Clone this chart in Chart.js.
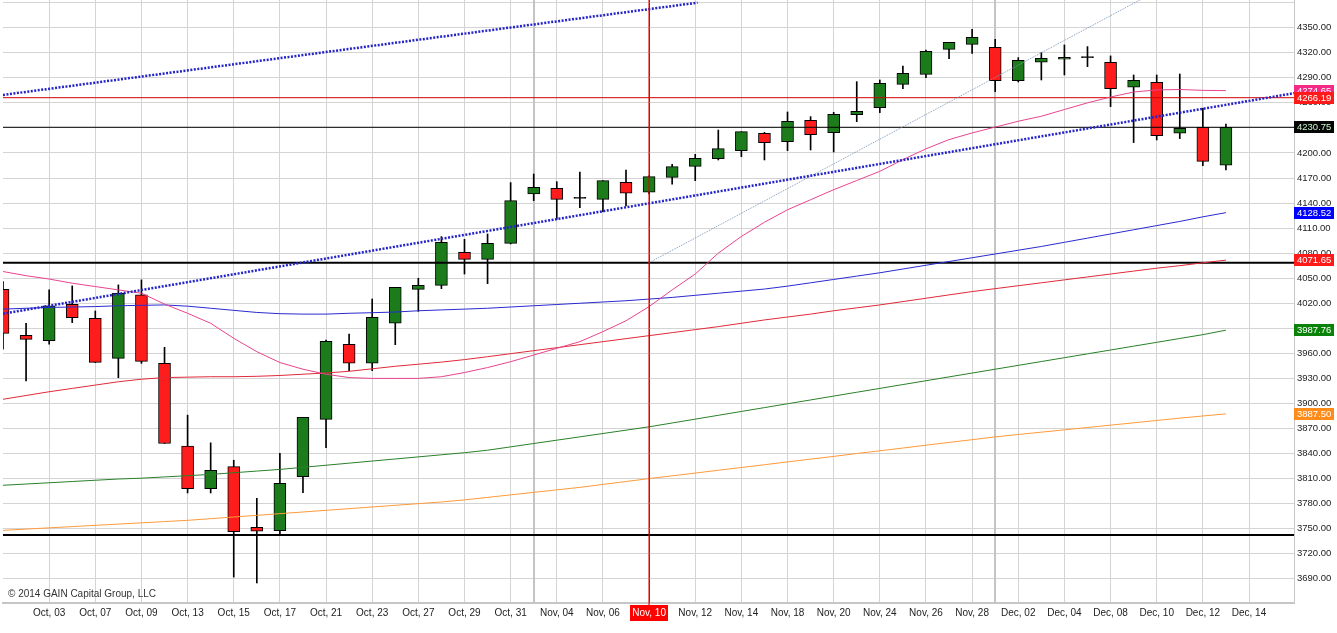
<!DOCTYPE html>
<html lang="en">
<head>
<meta charset="UTF-8">
<title>Daily candles</title>
<style>
  body { margin: 0; background: #fff; }
  #wrap { width: 1337px; height: 633px; position: relative; }
</style>
<script src="https://cdn.jsdelivr.net/npm/chart.js@4"></script>
</head>
<body>
<div id="wrap"><canvas id="chart"></canvas></div>
<script>
// candles, one per slot (Oct 01 .. last bar)
const opens = [4036.8, 3981.6, 3975.2, 4018.8, 4002, 3954, 4030, 3948, 3848.8, 3798,
  3824.4, 3751.6, 3747.7, 3812.3, 3881, 3970.8, 3948.1, 3996, 4036.7, 4041.5,
  4081, 4072.6, 4091.8, 4150.9, 4157.7, 4145.7, 4144.5, 4164.8, 4152.9, 4170.8,
  4184, 4193.2, 4202.8, 4223.5, 4213.5, 4239.1, 4224.3, 4245.9, 4254.3, 4282.2,
  4294.2, 4324.1, 4330.1, 4326.6, 4286.6, 4308.6, 4312.2, 4314.2, 4308.6, 4278.7,
  4284.6, 4223.6, 4230.8, 4185.3];
const highs = [4046, 3996, 4036, 4040.8, 4010.8, 4042, 4048, 3967.2, 3886, 3852.8,
  3832, 3786.4, 3840.3, 3883.4, 3976, 3983.2, 4025.1, 4039.1, 4049.9, 4099.8,
  4096.6, 4103, 4164.5, 4174.8, 4165.6, 4177.2, 4166.8, 4179.6, 4172.5, 4186.4,
  4198.4, 4227.5, 4225.5, 4224.7, 4249.1, 4243.5, 4248.7, 4285.4, 4287.4, 4304.2,
  4323.3, 4332.5, 4348.1, 4336.1, 4314.2, 4320.2, 4329.4, 4327.4, 4316.2, 4293.4,
  4293.4, 4294.6, 4253.5, 4234.7];
const lows = [3965, 3927, 3971, 3996.8, 3949, 3930.8, 3948, 3852, 3792.8, 3792.8,
  3692, 3685, 3742.5, 3793.2, 3847.1, 3939.3, 3939.3, 3970.4, 4010.3, 4037.5,
  4055, 4043.5, 4091, 4142.9, 4120.5, 4134.5, 4129.7, 4136.5, 4151, 4162.5,
  4166.8, 4191.6, 4195.6, 4191.6, 4202.8, 4203.6, 4201.2, 4237.5, 4248.3, 4277,
  4290.2, 4312.9, 4319.3, 4273.5, 4285, 4287.4, 4293.4, 4303.4, 4255.5, 4212.4,
  4215.6, 4217.2, 4184.8, 4179.7];
const closes = [3984, 3976.8, 4016.8, 4002.8, 3949.2, 4032, 3950.4, 3852, 3798, 3820,
  3746.4, 3746.9, 3804.4, 3883.4, 3974.4, 3948.1, 4003.2, 4039.1, 4041.5, 4093,
  4072.6, 4091.8, 4142.9, 4158.9, 4144.5, 4145.7, 4166.8, 4151.7, 4171.6, 4183.6,
  4193.6, 4205.2, 4225.5, 4212.3, 4237.9, 4221.9, 4246.3, 4249.9, 4283.4, 4295.4,
  4321.7, 4332.5, 4338.5, 4286.6, 4311, 4313.4, 4314.6, 4314.2, 4277.1, 4287,
  4220.8, 4229.6, 4190, 4230.75];

// moving averages
const maPink = [4058, 4053, 4049, 4044, 4040, 4036, 4032, 4019, 4008, 3996,
  3978, 3962, 3949, 3941, 3935, 3931, 3930, 3930, 3930, 3932,
  3937, 3943, 3950, 3958, 3966, 3974, 3986, 3999, 4016, 4036,
  4055, 4080, 4100, 4117, 4132, 4144, 4156, 4167, 4178, 4192,
  4205, 4216, 4224, 4231, 4238, 4244, 4252, 4260, 4267, 4273,
  4275.5, 4276, 4275, 4274.65];
const maBlue = [4013, 4014, 4015, 4015.5, 4016, 4017, 4017.5, 4018, 4016.5, 4014,
  4011.5, 4009, 4007.5, 4007, 4007, 4008, 4008.7, 4009.5, 4011, 4012,
  4013, 4014, 4015.5, 4017, 4018.5, 4020, 4021.5, 4023, 4025, 4027,
  4029.5, 4032, 4034.5, 4037, 4040.5, 4044.5, 4048.5, 4052.5, 4056.5, 4061,
  4065.5, 4070, 4074.5, 4079, 4083.5, 4088, 4093, 4098, 4103, 4108,
  4113, 4118, 4123.5, 4128.52];
const maRed = [3905, 3909.5, 3914, 3918, 3922, 3926, 3929, 3931, 3931.5, 3932,
  3932, 3932.5, 3933.5, 3935, 3936.5, 3938.5, 3941.5, 3944.5, 3947, 3949.5,
  3952.5, 3956, 3959.6, 3963.2, 3966.8, 3970.4, 3974, 3977.6, 3981.2, 3984.8,
  3988.4, 3992, 3996, 4000, 4003.5, 4007, 4011, 4014.5, 4018, 4022,
  4026, 4030, 4034, 4037.5, 4041, 4044.5, 4048, 4051.5, 4055, 4058.5,
  4062, 4065, 4068.5, 4071.65];
const maGreen = [3802, 3803.5, 3805, 3806.5, 3808, 3809.5, 3810.5, 3812, 3813.5, 3815,
  3817, 3819, 3821, 3823.5, 3826, 3828.5, 3831, 3833.5, 3836, 3838.5,
  3841, 3844, 3848, 3852, 3856, 3860, 3864, 3868, 3872, 3876.6,
  3881.2, 3885.8, 3890.4, 3895, 3899.6, 3904.2, 3908.8, 3913.4, 3918, 3922.6,
  3927.2, 3931.8, 3936.4, 3941, 3945.6, 3950.2, 3954.8, 3959.4, 3964, 3968.6,
  3973.2, 3977.8, 3982.4, 3987.76];
const maOrange = [3748, 3749.5, 3751, 3752.5, 3754, 3755.5, 3757, 3758.5, 3760, 3762,
  3764, 3766, 3768, 3770, 3772, 3774, 3776, 3778, 3780, 3782,
  3784.5, 3787.5, 3790.5, 3793.5, 3796.5, 3799.5, 3803, 3806.5, 3810, 3813.3,
  3816.6, 3820, 3823.3, 3826.6, 3830, 3833.3, 3836.6, 3840, 3843.3, 3846.6,
  3850, 3853.3, 3856.6, 3860, 3862.8, 3865.6, 3868.4, 3871.2, 3874, 3876.8,
  3879.6, 3882.4, 3885, 3887.5];

// drawn trend lines: [slot, price] end points
const trendUpper = [[0, 4269.5], [30.1, 4380]];
const trendLower = [[0, 4007.5], [56, 4271.8]];
const fanLine = [[28, 4068.6], [50, 4394]];

// horizontal levels
const levelRed = 4266.19;
const levelLast = 4230.75;
const levelSupport1 = 4068.6;
const levelSupport2 = 3742.5;

// right side value tags
const tagValues = [4274.65, 4266.19, 4230.75, 4128.52, 4071.65, 3987.76, 3887.50];
const tagColors = ['#f52a86', '#ff1a1a', '#050505', '#0000ff', '#ff1a1a', '#0a820a', '#ff8c1a'];
const tagText = ['#ffffff', '#ffffff', '#c8f5c8', '#ffffff', '#ffffff', '#ffffff', '#ffffff'];

// axes
const xTickLabels = ['Oct, 03', 'Oct, 07', 'Oct, 09', 'Oct, 13', 'Oct, 15', 'Oct, 17', 'Oct, 21',
  'Oct, 23', 'Oct, 27', 'Oct, 29', 'Oct, 31', 'Nov, 04', 'Nov, 06', 'Nov, 10', 'Nov, 12',
  'Nov, 14', 'Nov, 18', 'Nov, 20', 'Nov, 24', 'Nov, 26', 'Nov, 28', 'Dec, 02', 'Dec, 04',
  'Dec, 08', 'Dec, 10', 'Dec, 12', 'Dec, 14'];
const xTickSlots = xTickLabels.map((_, k) => 2 + 2 * k);
const yTicks = [3690, 3720, 3750, 3780, 3810, 3840, 3870, 3900, 3930, 3960, 3990, 4020,
  4050, 4080, 4110, 4140, 4170, 4200, 4230, 4260, 4290, 4320, 4350, 4380];
const monthStarts = [23, 43];
const markedSlot = 28;

const FONT = '"Liberation Sans", Arial, sans-serif';
const MARK_RED = '#e00000';

const candleColor = opens.map((o, i) =>
  closes[i] > o ? '#1c7c1c' : (closes[i] < o ? '#ff1c1c' : '#000000'));

const pts = arr => arr.map((v, i) => ({ x: i, y: v }));
const seg = arr => arr.map(p => ({ x: p[0], y: p[1] }));
const flat = v => [{ x: 0, y: v }, { x: 56, y: v }];

function lineSet(data, color, width, dash, order) {
  return {
    type: 'line', data: data, borderColor: color, borderWidth: width,
    borderDash: dash || [], pointRadius: 0, fill: false, tension: 0, order: order
  };
}

const extras = {
  id: 'extras',
  beforeDraw(chart) {
    const { ctx, chartArea, scales: { x } } = chart;
    const px = x.getPixelForValue(markedSlot);
    ctx.save();
    ctx.fillStyle = '#ff0000';
    ctx.fillRect(Math.round(px) - 19, chartArea.bottom + 2, 38, 16);
    ctx.restore();
  },
  beforeDatasetsDraw(chart) {
    const { ctx, chartArea, scales: { x } } = chart;
    ctx.save();
    ctx.strokeStyle = '#c4c4c4';
    ctx.lineWidth = 2;
    monthStarts.forEach(s => {
      const px = Math.round(x.getPixelForValue(s));
      ctx.beginPath();
      ctx.moveTo(px, chartArea.top);
      ctx.lineTo(px, chartArea.bottom);
      ctx.stroke();
    });
    ctx.restore();
  },
  afterDatasetsDraw(chart) {
    const { ctx, chartArea, scales: { x } } = chart;
    const px = x.getPixelForValue(markedSlot);
    ctx.save();
    ctx.strokeStyle = MARK_RED;
    ctx.lineWidth = 1.2;
    ctx.beginPath();
    ctx.moveTo(px, chartArea.top);
    ctx.lineTo(px, chartArea.bottom + 2);
    ctx.stroke();
    ctx.fillStyle = '#333';
    ctx.font = '10px ' + FONT;
    ctx.textBaseline = 'middle';
    ctx.fillText('\u00a9 2014 GAIN Capital Group, LLC', 8, chartArea.bottom - 9);
    ctx.restore();
  },
  afterDraw(chart) {
    const { ctx, chartArea, scales: { y } } = chart;
    ctx.save();
    ctx.font = '9.5px ' + FONT;
    ctx.textBaseline = 'middle';
    tagValues.forEach((v, i) => {
      const py = Math.round(y.getPixelForValue(v));
      ctx.fillStyle = tagColors[i];
      ctx.fillRect(chartArea.right, py - 6, 40, 12);
      ctx.fillStyle = tagText[i];
      ctx.fillText(v.toFixed(2), chartArea.right + 3, py + 0.5);
    });
    ctx.restore();
  }
};

new Chart(document.getElementById('chart'), {
  type: 'bar',
  data: {
    datasets: [
      lineSet(seg(fanLine), '#7f98b8', 1, [1, 1], 1),
      lineSet(seg(trendUpper), '#2424c8', 2.5, [2, 1.5], 0),
      lineSet(seg(trendLower), '#2424c8', 2.5, [2, 1.5], 0),
      lineSet(pts(maPink), '#e8448e', 1, null, 2),
      lineSet(pts(maBlue), '#2a2ad0', 1, null, 2),
      lineSet(pts(maRed), '#e02a3a', 1, null, 2),
      lineSet(pts(maGreen), '#2a802a', 1, null, 2),
      lineSet(pts(maOrange), '#ff9a3a', 1, null, 2),
      lineSet(flat(levelRed), '#d00000', 1, null, 3),
      lineSet(flat(levelLast), '#000000', 1, null, 3),
      lineSet(flat(levelSupport1), '#000000', 2, null, 3),
      lineSet(flat(levelSupport2), '#000000', 2, null, 3),
      {
        label: 'body',
        data: opens.map((o, i) => ({ x: i, y: [o, closes[i]] })),
        backgroundColor: candleColor,
        borderColor: '#000',
        borderWidth: 1,
        borderSkipped: false,
        barThickness: 12,
        minBarLength: 1,
        grouped: false,
        order: 5
      },
      {
        label: 'wick',
        data: lows.map((l, i) => ({ x: i, y: [l, highs[i]] })),
        backgroundColor: '#000',
        borderWidth: 0,
        barThickness: 1,
        grouped: false,
        order: 6
      }
    ]
  },
  options: {
    responsive: true,
    maintainAspectRatio: false,
    animation: false,
    events: [],
    layout: { padding: { left: 3, top: 0, right: 0, bottom: 0 } },
    plugins: { legend: { display: false }, tooltip: { enabled: false } },
    scales: {
      x: {
        type: 'linear',
        min: 0,
        max: 55.95,
        offset: false,
        grid: {
          color: c => (c.tick && c.tick.value === markedSlot ? MARK_RED : '#d4d4d4'),
          lineWidth: 1, drawTicks: false, offset: false
        },
        border: { color: '#c6c6c6', width: 2 },
        afterBuildTicks: s => { s.ticks = xTickSlots.map(v => ({ value: v })); },
        afterFit: s => { s.height = 30; s.paddingLeft = 0; s.paddingRight = 0; },
        ticks: {
          autoSkip: false,
          maxRotation: 0,
          padding: 4,
          font: { family: FONT, size: 10 },
          color: c => (c.tick && c.tick.value === markedSlot ? '#ffffff' : '#222222'),
          callback: v => xTickLabels[xTickSlots.indexOf(v)] || ''
        }
      },
      y: {
        type: 'linear',
        position: 'right',
        min: 3661,
        max: 4383.2,
        grid: { color: '#d4d4d4', lineWidth: 1, drawTicks: false },
        border: { color: '#c6c6c6', width: 1 },
        afterBuildTicks: s => { s.ticks = yTicks.map(v => ({ value: v })); },
        afterFit: s => { s.width = 43; s.paddingTop = 0; s.paddingBottom = 0; },
        ticks: {
          padding: 3,
          font: { family: FONT, size: 9.5 },
          color: '#222222',
          callback: v => (v === 4380 ? '' : v.toFixed(2))
        }
      }
    }
  },
  plugins: [extras]
});
</script>
</body>
</html>
